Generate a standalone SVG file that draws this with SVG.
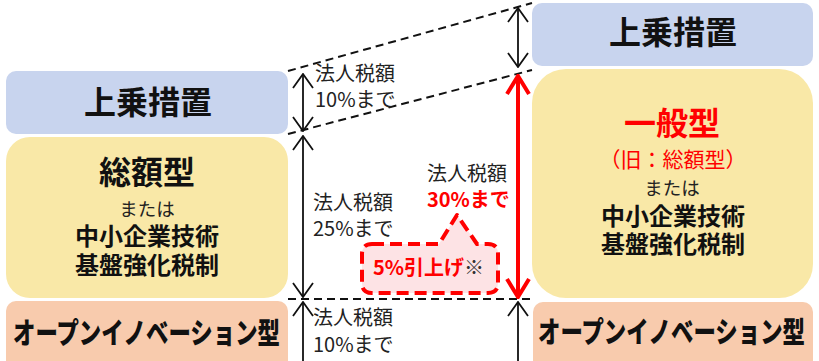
<svg xmlns="http://www.w3.org/2000/svg" width="819" height="361" viewBox="0 0 819 361">
<style>
  text { font-family: "Noto Sans CJK JP", "Noto Sans", sans-serif; fill: #111; }
  .title { font-size: 32px; font-weight: bold; text-anchor: middle; }
  .sub { font-size: 18.5px; text-anchor: middle; fill: #222; }
  .bold24 { font-size: 24px; font-weight: bold; text-anchor: middle; }
  .lbl { font-size: 20px; fill: #222; }
  .open { font-size: 22.4px; font-weight: 900; }
  .red { fill: #FF0000; }
  .blue { fill: #C8D4EE; }
  .yellow { fill: #F9E8A7; }
  .peach { fill: #F8CBAD; }
  .dash { stroke: #111; stroke-width: 2; stroke-dasharray: 8 5; fill: none; }
  .arr { stroke: #111; stroke-width: 1.8; fill: none; marker-start: url(#ah); marker-end: url(#ah); }
  .redarr { stroke: #FF0000; stroke-width: 4; fill: none; marker-start: url(#rah); marker-end: url(#rah); }
</style>
<defs>
  <marker id="ah" viewBox="0 0 16 22" refX="15" refY="11" markerWidth="16" markerHeight="22" markerUnits="userSpaceOnUse" orient="auto-start-reverse">
    <path d="M1,1 L15,11 L1,21" fill="none" stroke="#111" stroke-width="1.8"/>
  </marker>
  <marker id="rah" viewBox="0 0 22 26" refX="20" refY="13" markerWidth="22" markerHeight="26" markerUnits="userSpaceOnUse" orient="auto-start-reverse">
    <path d="M2,2 L20,13 L2,24" fill="none" stroke="#FF0000" stroke-width="4"/>
  </marker>
</defs>

<g id="left-joujou">
  <rect class="blue" x="6" y="71" width="282" height="63" rx="10"/>
  <text class="title" x="148" y="114">上乗措置</text>
</g>
<g id="left-sougaku">
  <rect class="yellow" x="6" y="137" width="282" height="161" rx="24"/>
  <text class="title" x="147" y="184">総額型</text>
  <text class="sub" x="147" y="216">または</text>
  <text class="bold24" x="147" y="245">中小企業技術</text>
  <text class="bold24" x="147" y="274">基盤強化税制</text>
</g>
<g id="left-open">
  <rect class="peach" x="6" y="301" width="282" height="75" rx="10"/>
  <text class="open" transform="translate(13,344) scale(1,1.3)" x="0" y="0">オープンイノベーション型</text>
</g>

<g id="right-joujou">
  <rect class="blue" x="532" y="3" width="281" height="63" rx="10"/>
  <text class="title" x="673" y="44">上乗措置</text>
</g>
<g id="right-ippan">
  <rect class="yellow" x="532" y="69" width="281" height="229" rx="34"/>
  <text class="title red" x="672" y="135">一般型</text>
  <text class="red" x="673" y="167" font-size="21" text-anchor="middle">（旧：総額型）</text>
  <text class="sub" x="672" y="195">または</text>
  <text class="bold24" x="673" y="225">中小企業技術</text>
  <text class="bold24" x="673" y="253">基盤強化税制</text>
</g>
<g id="right-open">
  <rect class="peach" x="533" y="302" width="280" height="75" rx="10"/>
  <text class="open" transform="translate(538,343) scale(1,1.3)" x="0" y="0">オープンイノベーション型</text>
</g>

<g id="connectors">
  <line class="dash" x1="288" y1="71" x2="532" y2="3"/>
  <line class="dash" x1="288" y1="134" x2="532" y2="70"/>
  <line class="dash" x1="288" y1="299" x2="532" y2="299"/>
  <line class="arr" x1="303" y1="74" x2="303" y2="131"/>
  <line class="arr" x1="303" y1="136" x2="303" y2="297"/>
  <line class="arr" x1="303" y1="302" x2="303" y2="380"/>
  <line class="arr" x1="518" y1="8" x2="518" y2="67"/>
  <line class="redarr" x1="518" y1="76" x2="518" y2="297"/>
  <line class="arr" x1="518" y1="302" x2="518" y2="380"/>
</g>

<g id="labels">
  <text class="lbl" x="315" y="81">法人税額</text>
  <text class="lbl" x="315" y="107">10%まで</text>
  <text class="lbl" x="313" y="210">法人税額</text>
  <text class="lbl" x="313" y="236">25%まで</text>
  <text class="lbl" x="313" y="325">法人税額</text>
  <text class="lbl" x="313" y="352">10%まで</text>
  <text class="lbl" x="427" y="181">法人税額</text>
  <text class="lbl red" x="427" y="207" font-weight="bold">30%まで</text>
</g>

<g id="callout">
  <path d="M372,244 L439,244 L457,215 L477,244 L488,244 Q498,244 498,254 L498,283 Q498,293 488,293 L372,293 Q362,293 362,283 L362,254 Q362,244 372,244 Z" fill="#FDE3E5" stroke="#FF0000" stroke-width="4" stroke-dasharray="12 6" stroke-linejoin="round"/>
  <text x="373" y="275" font-size="20"><tspan font-weight="bold" fill="#FF0000">5%引上げ</tspan><tspan fill="#333">※</tspan></text>
</g>
</svg>
